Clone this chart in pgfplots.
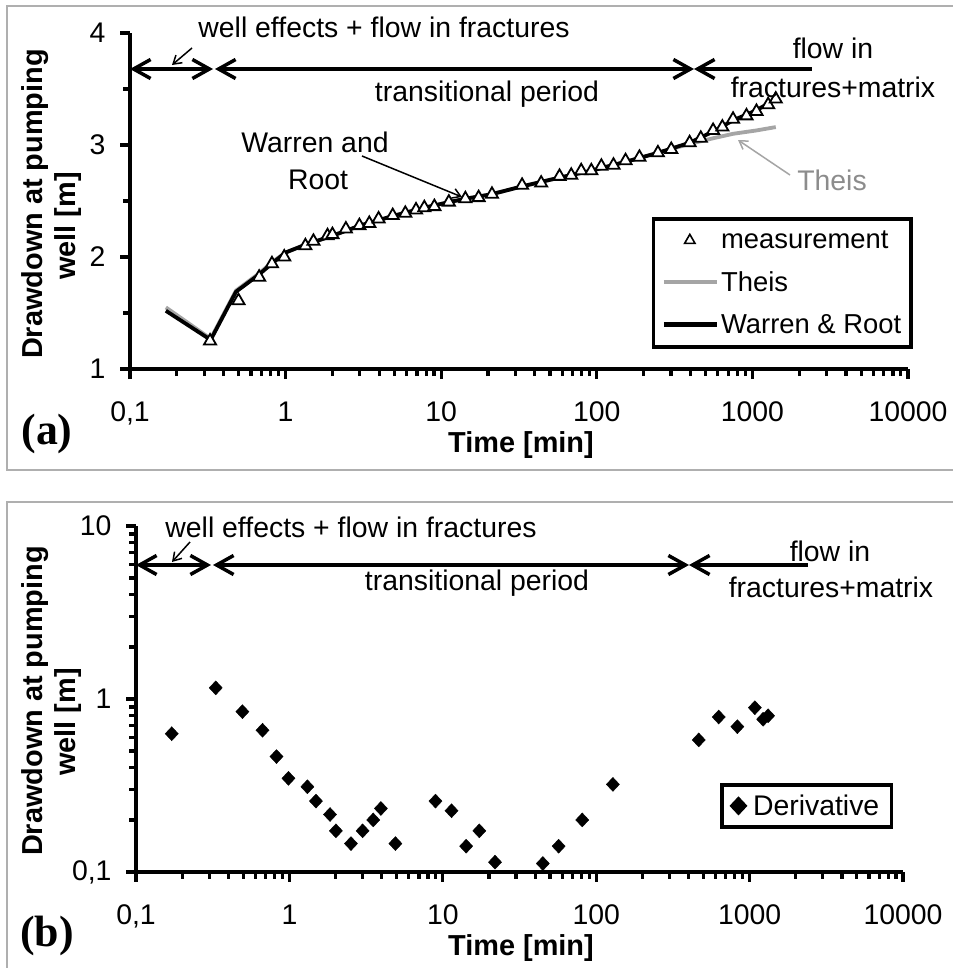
\documentclass[border=0pt]{standalone}
\usepackage{pgfplots}
\pgfplotsset{compat=1.18}
\usetikzlibrary{arrows.meta}
\usepackage{fontspec}
\setmainfont{Liberation Sans}
\newfontfamily\timesfont{Liberation Serif}
\definecolor{theisgray}{RGB}{165,165,165}
\definecolor{framegray}{RGB}{175,175,175}
\newcommand{\annfont}{\fontsize{28.5}{32}\selectfont}

\begin{document}
\begin{tikzpicture}
\useasboundingbox (0,0) rectangle (953bp,-968bp);
\fill[white] (0,0) rectangle (953bp,-968bp);
\begin{scope}[x=1bp,y=-1bp]
\draw[framegray, line width=1.5bp] (7,6) rectangle (985,470);
\draw[framegray, line width=1.5bp] (7,502) rectangle (985,995);
\end{scope}

% ---------------- panel (a) ----------------
\begin{axis}[scale only axis, anchor=south west,
  at={(130bp,-369bp)}, width=778bp, height=336bp,
  xmode=log, xmin=0.1, xmax=10000,
  axis lines=left,
  axis line style={line width=3.5bp, -},
  tick align=outside,
  major tick length=10bp, minor tick length=7bp,
  every tick/.append style={line width=3.2bp, black},
  xtick={0.1,1,10,100,1000,10000},
  xticklabels={{0,1},1,10,100,1000,10000},
  minor xtick={0.2,0.3,0.4,0.5,0.6,0.7,0.8,0.9,2,3,4,5,6,7,8,9,20,30,40,50,60,70,80,90,200,300,400,500,600,700,800,900,2000,3000,4000,5000,6000,7000,8000,9000},
  tick label style={font=\fontsize{28.5}{32}\selectfont, black},
  xticklabel style={yshift=-19bp},
  yticklabel style={xshift=-11bp},
  clip=false,
  ymin=1, ymax=4, ytick={1,2,3,4}, yticklabels={1,2,3,4}, minor ytick={1.5,2.5,3.5},
  legend style={at={(1.0064,0.4524)}, anchor=north east, draw=black, line width=3.5bp, fill=white,
    inner xsep=8bp, inner ysep=10bp, row sep=17.5bp,
    font=\fontsize{27.5}{30}\selectfont, nodes={inner sep=2bp}},
  legend cell align=left,
]
\addlegendimage{legend image code/.code={\draw[black, line width=1.6bp, fill=white] plot[mark=triangle*, mark size=6bp] coordinates {(26bp,0bp)};}}
\addlegendentry{measurement}
\addlegendimage{legend image code/.code={\draw[theisgray, line width=4.5bp] (0bp,0bp) -- (53bp,0bp);}}
\addlegendentry{Theis}
\addlegendimage{legend image code/.code={\draw[black, line width=4.5bp] (0bp,0bp) -- (53bp,0bp);}}
\addlegendentry{Warren \& Root}

\addplot[theisgray, line width=3.8bp, line join=round, forget plot] coordinates {
(0.17,1.55) (0.33,1.27) (0.48,1.70) (0.67,1.85) (0.83,1.96) (1.0,2.04) (1.34,2.11) (2.0,2.19) (3.0,2.28) (5.0,2.37) (7.8,2.44) (11.2,2.49) (14.3,2.52) (21,2.56) (33,2.63) (58,2.71) (92,2.77) (153,2.85) (247,2.93) (395,3.01) (559,3.06) (751,3.10) (1062,3.13) (1413,3.16)};
\addplot[black, line width=3.8bp, line join=round, forget plot] coordinates {
(0.17,1.52) (0.33,1.26) (0.48,1.69) (0.67,1.84) (0.83,1.95) (1.0,2.04) (1.34,2.11) (2.0,2.19) (3.0,2.28) (5.0,2.37) (7.8,2.44) (11.2,2.49) (14.3,2.52) (21,2.56) (33,2.63) (58,2.71) (92,2.77) (153,2.85) (247,2.93) (395,3.02) (559,3.12) (751,3.22) (1062,3.31) (1413,3.41)};
\addplot[only marks, mark=triangle*, mark size=7bp, mark options={fill=white, draw=black, line width=1.8bp}, forget plot] coordinates {
(0.327,1.25) (0.498,1.61) (0.676,1.82) (0.817,1.94) (0.98,2.00) (1.34,2.10) (1.51,2.14) (1.86,2.19) (2.0,2.20) (2.44,2.25) (2.98,2.28) (3.45,2.30) (3.96,2.34) (4.88,2.37) (5.88,2.39) (6.89,2.42) (7.79,2.44) (9.04,2.45) (11.2,2.49) (14.3,2.52) (17.4,2.53) (21.2,2.56) (33.1,2.64) (43.9,2.66) (57.6,2.72) (68.5,2.73) (79.4,2.77) (92.2,2.77) (107,2.81) (128,2.82) (153,2.86) (188,2.89) (247,2.93) (301,2.96) (395,3.02) (466,3.06) (559,3.13) (641,3.16) (751,3.23) (916,3.26) (1062,3.30) (1262,3.36) (1413,3.41)};
\end{axis}

% ---------------- panel (b) ----------------
\begin{axis}[scale only axis, anchor=south west,
  at={(136bp,-872bp)}, width=767bp, height=346bp,
  xmode=log, xmin=0.1, xmax=10000,
  axis lines=left,
  axis line style={line width=3.5bp, -},
  tick align=outside,
  major tick length=10bp, minor tick length=7bp,
  every tick/.append style={line width=3.2bp, black},
  xtick={0.1,1,10,100,1000,10000},
  xticklabels={{0,1},1,10,100,1000,10000},
  minor xtick={0.2,0.3,0.4,0.5,0.6,0.7,0.8,0.9,2,3,4,5,6,7,8,9,20,30,40,50,60,70,80,90,200,300,400,500,600,700,800,900,2000,3000,4000,5000,6000,7000,8000,9000},
  tick label style={font=\fontsize{28.5}{32}\selectfont, black},
  xticklabel style={yshift=-19bp},
  yticklabel style={xshift=-11bp},
  clip=false,
  ymode=log, ymin=0.1, ymax=10, ytick={0.1,1,10}, yticklabels={{0,1},1,10},
  minor ytick={0.2,0.3,0.4,0.5,0.6,0.7,0.8,0.9,2,3,4,5,6,7,8,9},
  legend style={at={(0.987,0.257)}, anchor=north east, draw=black, line width=3.5bp, fill=white,
    inner xsep=10bp, inner ysep=8bp,
    font=\fontsize{28.5}{30}\selectfont, nodes={inner sep=2bp},
    /tikz/every odd column/.append style={column sep=6bp}},
  legend image code/.code={\draw[mark repeat=2,mark phase=2,#1] plot coordinates {(0bp,0bp) (8bp,0bp) (16bp,0bp)};},
]
\addplot[only marks, mark=diamond*, mark size=7bp, black, mark options={xscale=1.25}] coordinates {
(0.171,0.63) (0.331,1.16) (0.494,0.845) (0.668,0.66) (0.824,0.465) (0.986,0.348) (1.31,0.311) (1.49,0.257) (1.84,0.215) (2.01,0.173) (2.52,0.146) (3.0,0.173) (3.52,0.2) (3.95,0.233) (4.91,0.146) (8.96,0.257) (11.4,0.226) (14.2,0.141) (17.3,0.173) (21.9,0.114) (44.9,0.112) (56.9,0.141) (81.1,0.2) (128.5,0.321) (466,0.58) (629,0.787) (832,0.692) (1082,0.891) (1225,0.764) (1320,0.80)};
\addlegendentry{Derivative}
\end{axis}

% ---------------- annotations ----------------
\begin{scope}[x=1bp,y=-1bp, font=\annfont]
\tikzset{bigarrow/.style={line width=3.5bp}, barb/.tip={Straight Barb[length=17bp,width=19bp]},
  pointer/.style={line width=1.5bp, -{Straight Barb[length=8bp,width=10bp]}}}
% top
\draw[bigarrow, barb-barb] (130,69) -- (213,69);
\draw[bigarrow, barb-barb] (215,69) -- (694,69);
\draw[bigarrow, barb-] (694,69) -- (812,69);
\node[anchor=base, inner sep=0] at (384,37) {well effects + flow in fractures};
\node[anchor=base, inner sep=0] at (487,101) {transitional period};
\node[anchor=base, inner sep=0] at (833,58) {flow in};
\node[anchor=base, inner sep=0] at (833,97) {fractures+matrix};
\node[anchor=base, inner sep=0] at (315,152) {Warren and};
\node[anchor=base, inner sep=0] at (318,189) {Root};
\node[anchor=base, inner sep=0, text=theisgray!85!black] at (832,190) {Theis};
\draw[pointer] (192,48) -- (172,65);
\draw[pointer] (362,156) -- (462,197);
\draw[pointer, theisgray] (790,175) -- (738,140);
% bottom
\draw[bigarrow, barb-barb] (136,565) -- (211,565);
\draw[bigarrow, barb-barb] (213,565) -- (689,565);
\draw[bigarrow, barb-] (689,565) -- (808,565);
\node[anchor=base, inner sep=0] at (351,537) {well effects + flow in fractures};
\node[anchor=base, inner sep=0] at (477,590) {transitional period};
\node[anchor=base, inner sep=0] at (830,561) {flow in};
\node[anchor=base, inner sep=0] at (831,597) {fractures+matrix};
\draw[pointer] (190,542) -- (172,562);
% axis titles
\node[rotate=90, anchor=base, inner sep=0, font=\bfseries\fontsize{29}{32}\selectfont] at (42,204) {Drawdown at pumping};
\node[rotate=90, anchor=base, inner sep=0, font=\bfseries\fontsize{29}{32}\selectfont] at (75,226) {well [m]};
\node[rotate=90, anchor=base, inner sep=0, font=\bfseries\fontsize{29}{32}\selectfont] at (42,701) {Drawdown at pumping};
\node[rotate=90, anchor=base, inner sep=0, font=\bfseries\fontsize{29}{32}\selectfont] at (75,722) {well [m]};
\node[anchor=base, inner sep=0, font=\bfseries\fontsize{29}{32}\selectfont] at (521,452) {Time [min]};
\node[anchor=base, inner sep=0, font=\bfseries\fontsize{29}{32}\selectfont] at (521,955) {Time [min]};
\node[inner sep=0, font=\timesfont\bfseries\fontsize{44}{48}\selectfont] at (47,434) {(a)};
\node[inner sep=0, font=\timesfont\bfseries\fontsize{44}{48}\selectfont] at (47,936) {(b)};
\end{scope}
\end{tikzpicture}
\end{document}
